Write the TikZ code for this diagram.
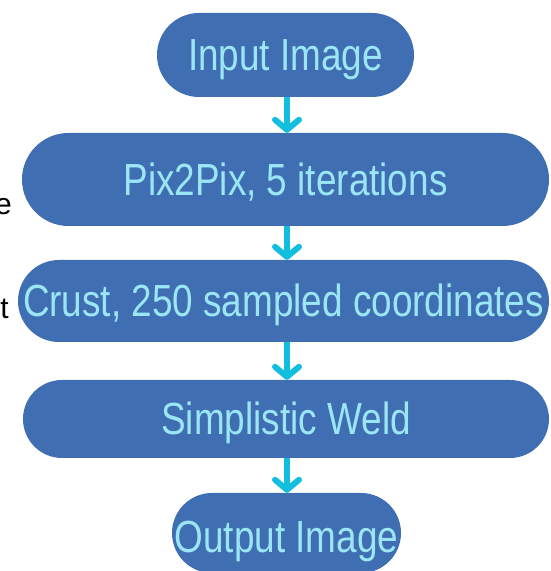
\documentclass[tikz,border=0pt]{standalone}
\usepackage{fontspec}
\setmainfont{Liberation Sans}
\newfontfamily\boxfont[FakeStretch=0.82]{Liberation Sans}
\usetikzlibrary{arrows.meta}
\definecolor{boxblue}{RGB}{63,110,178}
\definecolor{boxtext}{RGB}{155,230,245}
\definecolor{arrowcyan}{RGB}{18,190,222}
\tikzset{
  stepbox/.style={draw=none, fill=boxblue, text=boxtext, inner sep=0pt,
    font=\boxfont\fontsize{45}{50}\selectfont, text height=32pt, text depth=0pt},
  flowarrow/.style={draw=arrowcyan, line width=6pt,
    -{Straight Barb[length=10pt, width=24pt, line cap=round, line join=round]}},
  cropped/.style={inner sep=0pt, font=\fontsize{30}{34}\selectfont, text=black, anchor=base east}
}
\begin{document}
\begin{tikzpicture}[x=1pt,y=1pt]
\useasboundingbox (0,0) rectangle (550,571);
\begin{scope}
\clip (0,0) rectangle (550,571);
\node[stepbox, minimum width=257pt, minimum height=84pt, rounded corners=42pt] (in) at (285.5,516) {Input Image};
\node[stepbox, minimum width=527pt, minimum height=93pt, rounded corners=46.5pt] (pix) at (285.5,391.5) {Pix2Pix, 5 iterations};
\node[stepbox, minimum width=531pt, minimum height=82pt, rounded corners=41pt] (crust) at (283.5,270) {Crust, 250 sampled coordinates};
\node[stepbox, minimum width=526pt, minimum height=78pt, rounded corners=39pt] (weld) at (286,152) {Simplistic Weld};
\node[stepbox, minimum width=229pt, minimum height=80pt, rounded corners=40pt, text height=38pt] (out) at (286.5,38) {Output Image};
\end{scope}
\coordinate (ax) at (287,0);
\draw[flowarrow] (in.south -| ax) -- (pix.north -| ax);
\draw[flowarrow] (pix.south -| ax) -- (crust.north -| ax);
\draw[flowarrow] (crust.south -| ax) -- (weld.north -| ax);
\draw[flowarrow] (weld.south -| ax) -- (out.north -| ax);
\node[cropped] (frage) at (12,356) {e};
\node[cropped] (fragt) at (9,252) {t};
\end{tikzpicture}
\end{document}
